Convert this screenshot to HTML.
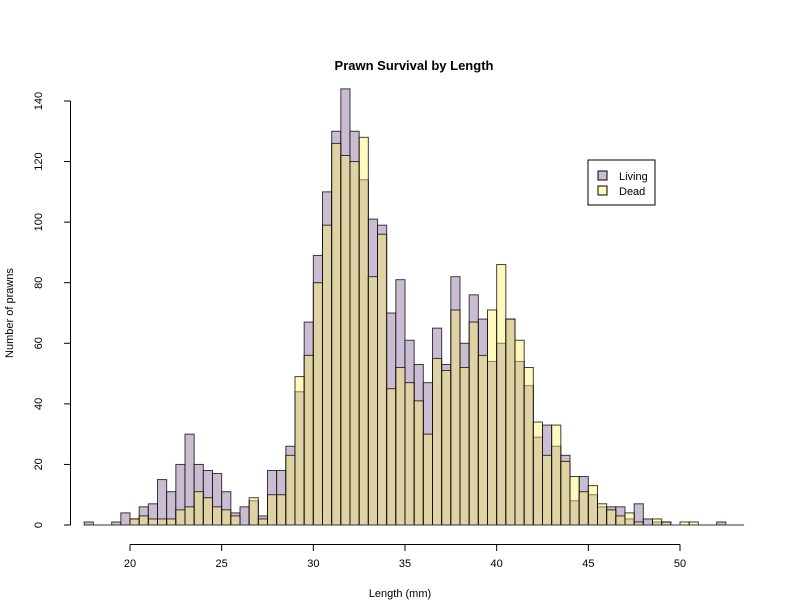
<!DOCTYPE html>
<html><head><meta charset="utf-8"><style>
body{margin:0;background:#fff;}
svg{display:block;font-family:"Liberation Sans",Arial,sans-serif;}
</style></head><body>
<svg id="chart" width="800" height="600">
<text x="414" y="70" text-anchor="middle" font-size="13" font-weight="bold">Prawn Survival by Length</text>
<text x="400" y="597" text-anchor="middle" font-size="11">Length (mm)</text>
<text transform="translate(13,313) rotate(-90)" text-anchor="middle" font-size="11">Number of prawns</text>
<g id="bars"></g>
<g id="axes"></g>
<g>
<rect x="588" y="160" width="67" height="45" fill="#fff" stroke="#000" stroke-width="1"/>
<rect x="598" y="171" width="9" height="9" fill="#c9bcd3" stroke="#000"/>
<text x="619" y="180" font-size="11">Living</text>
<rect x="598" y="186" width="9" height="9" fill="#fff9be" stroke="#000"/>
<text x="619" y="195" font-size="11">Dead</text>
</g>
</svg>
<script>
const binStart = 17.5;
const binWidth = 0.5;
const living = [1,0,0,1,4,2,6,7,15,11,20,30,20,18,17,11,4,6,8,3,18,18,26,44,67,89,110,130,144,130,114,101,99,70,81,61,53,47,65,53,82,60,76,68,54,60,68,54,46,29,33,26,23,8,16,10,6,6,6,2,7,2,1,1,0,0,0,0,0,1,0,0];
const dead = [0,0,0,0,0,2,3,2,2,2,5,6,11,9,6,5,3,0,9,2,10,10,23,49,56,80,99,126,122,120,128,82,96,45,52,47,41,30,55,51,71,52,67,56,71,86,68,61,52,34,23,33,21,16,11,13,7,5,3,4,1,0,2,1,0,1,1,0,0,0,0,0];
const xTicks = [20,25,30,35,40,45,50];
const yTicks = [0,20,40,60,80,100,120,140];
const NS = "http://www.w3.org/2000/svg";
function xs(v){return 130 + (v-20)*(550/30);}
function ys(v){return 525 - v*(424/140);}
const bars = document.getElementById('bars');
function drawSeries(arr, fill, name){
  arr.forEach((v,i)=>{
    if(v<=0) return;
    const x0 = xs(binStart+i*binWidth), x1 = xs(binStart+(i+1)*binWidth);
    const r = document.createElementNS(NS,'rect');
    r.setAttribute('x', x0); r.setAttribute('y', ys(v));
    r.setAttribute('width', x1-x0); r.setAttribute('height', ys(0)-ys(v));
    r.setAttribute('fill', fill); r.setAttribute('stroke', 'rgba(0,0,0,0.75)'); r.setAttribute('stroke-width','1');
    
    
    bars.appendChild(r);
  });
}
drawSeries(living, '#c9bcd3', 'living');
drawSeries(dead, 'rgba(255,240,100,0.42)', 'dead');
// baseline
const bl = document.createElementNS(NS,'line');
bl.setAttribute('x1', xs(binStart)); bl.setAttribute('x2', xs(binStart+living.length*binWidth));
bl.setAttribute('y1', 525); bl.setAttribute('y2', 525); bl.setAttribute('stroke','#333');


bars.appendChild(bl);
const axes = document.getElementById('axes');
function line(x1,y1,x2,y2,name){
  const l=document.createElementNS(NS,'line');
  l.setAttribute('x1',x1);l.setAttribute('y1',y1);l.setAttribute('x2',x2);l.setAttribute('y2',y2);
  l.setAttribute('stroke','#000');
  
  
  axes.appendChild(l);
}
function text(x,y,s,tr,name){
  const t=document.createElementNS(NS,'text');
  t.setAttribute('x',x);t.setAttribute('y',y);t.setAttribute('font-size','11');t.setAttribute('text-anchor','middle');
  if(tr) t.setAttribute('transform',tr);
  t.textContent=s;
  
  
  axes.appendChild(t);
}
line(xs(xTicks[0]),544.5,xs(xTicks[xTicks.length-1]),544.5,'x-axis-line');
xTicks.forEach(v=>{line(xs(v),544.5,xs(v),551,'x-tick');text(xs(v),567,String(v),null,'x-tick-label');});
line(70.5,ys(yTicks[0]),70.5,ys(yTicks[yTicks.length-1]),'y-axis-line');
yTicks.forEach(v=>{line(64,ys(v),70.5,ys(v),'y-tick');text(42,ys(v),String(v),'rotate(-90,42,'+ys(v)+')','y-tick-label');});
</script>
</body></html>
